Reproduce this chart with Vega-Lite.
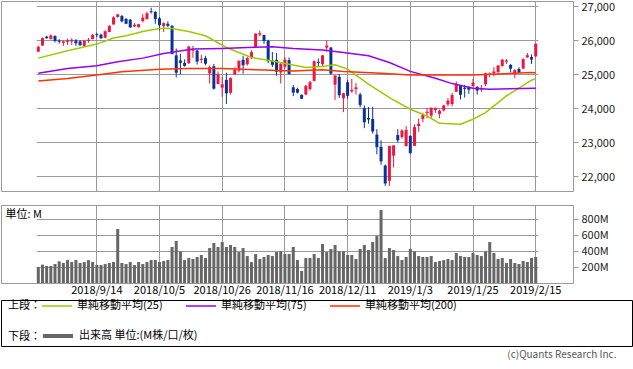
{
"$schema": "https://vega.github.io/schema/vega-lite/v6.json",
"padding": 0,
"background": "white",
"config": {
  "font": "Noto Sans CJK JP",
  "view": {"stroke": "#999999"},
  "axis": {"labelColor": "#222222", "gridColor": "#999999", "gridWidth": 1, "domain": false, "tickColor": "#999999", "labelFontSize": 11}
},
"title": {"text": "(c)Quants Research Inc.", "orient": "bottom", "anchor": "end", "fontSize": 10, "fontWeight": "normal", "color": "#555555", "offset": 3, "dx": -16},
"datasets": {
"p": [
{"d":"2018-08-24","o":25660,"h":25830,"l":25650,"c":25790,"v":200},
{"d":"2018-08-27","o":25840,"h":26075,"l":25830,"c":26049,"v":229},
{"d":"2018-08-28","o":26100,"h":26130,"l":26040,"c":26064,"v":212},
{"d":"2018-08-29","o":26035,"h":26167,"l":26010,"c":26124,"v":212},
{"d":"2018-08-30","o":26120,"h":26140,"l":25930,"c":25987,"v":237},
{"d":"2018-08-31","o":25980,"h":26030,"l":25900,"c":25965,"v":271},
{"d":"2018-09-04","o":25925,"h":25990,"l":25830,"c":25952,"v":250},
{"d":"2018-09-05","o":25950,"h":26040,"l":25860,"c":25975,"v":287},
{"d":"2018-09-06","o":25960,"h":26050,"l":25860,"c":25996,"v":262},
{"d":"2018-09-07","o":25990,"h":26030,"l":25830,"c":25917,"v":287},
{"d":"2018-09-10","o":25960,"h":26000,"l":25840,"c":25857,"v":250},
{"d":"2018-09-11","o":25830,"h":25990,"l":25800,"c":25971,"v":262},
{"d":"2018-09-12","o":25980,"h":26060,"l":25920,"c":25999,"v":287},
{"d":"2018-09-13","o":26030,"h":26180,"l":26020,"c":26146,"v":262},
{"d":"2018-09-14","o":26165,"h":26220,"l":26090,"c":26155,"v":225},
{"d":"2018-09-17","o":26160,"h":26190,"l":26040,"c":26062,"v":225},
{"d":"2018-09-18","o":26070,"h":26290,"l":26060,"c":26247,"v":237},
{"d":"2018-09-19","o":26240,"h":26440,"l":26230,"c":26406,"v":250},
{"d":"2018-09-20","o":26460,"h":26700,"l":26450,"c":26657,"v":262},
{"d":"2018-09-21","o":26680,"h":26770,"l":26660,"c":26743,"v":675},
{"d":"2018-09-24","o":26710,"h":26740,"l":26520,"c":26562,"v":250},
{"d":"2018-09-25","o":26620,"h":26650,"l":26470,"c":26492,"v":237},
{"d":"2018-09-26","o":26600,"h":26620,"l":26360,"c":26385,"v":262},
{"d":"2018-09-27","o":26400,"h":26500,"l":26380,"c":26440,"v":225},
{"d":"2018-09-28","o":26380,"h":26480,"l":26370,"c":26458,"v":262},
{"d":"2018-10-01","o":26560,"h":26770,"l":26520,"c":26651,"v":237},
{"d":"2018-10-02","o":26620,"h":26830,"l":26600,"c":26774,"v":262},
{"d":"2018-10-03","o":26840,"h":26951,"l":26782,"c":26828,"v":287},
{"d":"2018-10-04","o":26830,"h":26850,"l":26480,"c":26627,"v":287},
{"d":"2018-10-05","o":26640,"h":26680,"l":26280,"c":26447,"v":262},
{"d":"2018-10-08","o":26410,"h":26520,"l":26240,"c":26487,"v":275},
{"d":"2018-10-09","o":26480,"h":26550,"l":26380,"c":26431,"v":287},
{"d":"2018-10-10","o":26420,"h":26440,"l":25590,"c":25599,"v":450},
{"d":"2018-10-11","o":25550,"h":25750,"l":24900,"c":25053,"v":525},
{"d":"2018-10-12","o":25400,"h":25600,"l":24990,"c":25340,"v":396},
{"d":"2018-10-15","o":25330,"h":25430,"l":25220,"c":25250,"v":287},
{"d":"2018-10-16","o":25320,"h":25830,"l":25300,"c":25798,"v":312},
{"d":"2018-10-17","o":25690,"h":25830,"l":25480,"c":25707,"v":300},
{"d":"2018-10-18","o":25690,"h":25720,"l":25280,"c":25379,"v":325},
{"d":"2018-10-19","o":25420,"h":25570,"l":25320,"c":25444,"v":350},
{"d":"2018-10-22","o":25470,"h":25540,"l":25260,"c":25317,"v":312},
{"d":"2018-10-23","o":25020,"h":25250,"l":24720,"c":25191,"v":437},
{"d":"2018-10-24","o":25230,"h":25300,"l":24540,"c":24583,"v":500},
{"d":"2018-10-25","o":24710,"h":25080,"l":24700,"c":24985,"v":450},
{"d":"2018-10-26","o":24600,"h":24920,"l":24330,"c":24688,"v":512},
{"d":"2018-10-29","o":24830,"h":25040,"l":24120,"c":24443,"v":450},
{"d":"2018-10-30","o":24450,"h":24900,"l":24400,"c":24875,"v":475},
{"d":"2018-10-31","o":24990,"h":25200,"l":24980,"c":25116,"v":450},
{"d":"2018-11-01","o":25100,"h":25400,"l":25050,"c":25381,"v":387},
{"d":"2018-11-02","o":25420,"h":25540,"l":25010,"c":25271,"v":437},
{"d":"2018-11-05","o":25290,"h":25500,"l":25250,"c":25462,"v":337},
{"d":"2018-11-06","o":25470,"h":25700,"l":25440,"c":25635,"v":262},
{"d":"2018-11-07","o":25800,"h":26200,"l":25780,"c":26180,"v":362},
{"d":"2018-11-08","o":26160,"h":26280,"l":26110,"c":26191,"v":300},
{"d":"2018-11-09","o":26150,"h":26160,"l":25890,"c":25989,"v":325},
{"d":"2018-11-12","o":25980,"h":26010,"l":25330,"c":25387,"v":350},
{"d":"2018-11-13","o":25400,"h":25650,"l":25210,"c":25286,"v":337},
{"d":"2018-11-14","o":25420,"h":25620,"l":24950,"c":25080,"v":387},
{"d":"2018-11-15","o":25050,"h":25330,"l":24720,"c":25289,"v":400},
{"d":"2018-11-16","o":25220,"h":25500,"l":25160,"c":25413,"v":362},
{"d":"2018-11-19","o":25410,"h":25490,"l":24980,"c":25017,"v":362},
{"d":"2018-11-20","o":24610,"h":24680,"l":24350,"c":24466,"v":450},
{"d":"2018-11-21","o":24560,"h":24600,"l":24430,"c":24465,"v":287},
{"d":"2018-11-23","o":24390,"h":24400,"l":24270,"c":24286,"v":150},
{"d":"2018-11-26","o":24400,"h":24680,"l":24380,"c":24640,"v":312},
{"d":"2018-11-27","o":24560,"h":24800,"l":24510,"c":24749,"v":312},
{"d":"2018-11-28","o":24800,"h":25400,"l":24780,"c":25366,"v":362},
{"d":"2018-11-29","o":25360,"h":25460,"l":25220,"c":25339,"v":312},
{"d":"2018-11-30","o":25290,"h":25560,"l":25230,"c":25538,"v":487},
{"d":"2018-12-03","o":25780,"h":25990,"l":25660,"c":25826,"v":387},
{"d":"2018-12-04","o":25780,"h":25800,"l":24980,"c":25027,"v":425},
{"d":"2018-12-06","o":24690,"h":24960,"l":24240,"c":24948,"v":475},
{"d":"2018-12-07","o":24920,"h":25000,"l":24300,"c":24389,"v":396},
{"d":"2018-12-10","o":24290,"h":24450,"l":23880,"c":24423,"v":396},
{"d":"2018-12-11","o":24760,"h":24830,"l":24280,"c":24370,"v":350},
{"d":"2018-12-12","o":24490,"h":24860,"l":24450,"c":24527,"v":350},
{"d":"2018-12-13","o":24560,"h":24730,"l":24400,"c":24597,"v":300},
{"d":"2018-12-14","o":24400,"h":24450,"l":24020,"c":24100,"v":425},
{"d":"2018-12-17","o":24000,"h":24080,"l":23410,"c":23593,"v":475},
{"d":"2018-12-18","o":23710,"h":24030,"l":23540,"c":23676,"v":412},
{"d":"2018-12-19","o":23680,"h":24040,"l":23250,"c":23324,"v":512},
{"d":"2018-12-20","o":23220,"h":23380,"l":22640,"c":22860,"v":587},
{"d":"2018-12-21","o":22860,"h":23050,"l":22330,"c":22445,"v":912},
{"d":"2018-12-24","o":22310,"h":22340,"l":21710,"c":21792,"v":312},
{"d":"2018-12-26","o":21860,"h":22880,"l":21710,"c":22878,"v":437},
{"d":"2018-12-27","o":22600,"h":22900,"l":22250,"c":22890,"v":412},
{"d":"2018-12-28","o":23210,"h":23380,"l":22990,"c":23062,"v":337},
{"d":"2018-12-31","o":23150,"h":23380,"l":23100,"c":23327,"v":287},
{"d":"2019-01-02","o":22880,"h":23470,"l":22870,"c":23346,"v":325},
{"d":"2019-01-03","o":23180,"h":23200,"l":22640,"c":22686,"v":425},
{"d":"2019-01-04","o":22890,"h":23520,"l":22880,"c":23433,"v":396},
{"d":"2019-01-07","o":23470,"h":23690,"l":23300,"c":23531,"v":337},
{"d":"2019-01-08","o":23680,"h":23860,"l":23580,"c":23787,"v":325},
{"d":"2019-01-09","o":23850,"h":24000,"l":23700,"c":23879,"v":325},
{"d":"2019-01-10","o":23780,"h":24010,"l":23710,"c":24002,"v":337},
{"d":"2019-01-11","o":23940,"h":24010,"l":23860,"c":23996,"v":262},
{"d":"2019-01-14","o":23830,"h":23960,"l":23700,"c":23910,"v":275},
{"d":"2019-01-15","o":23930,"h":24100,"l":23900,"c":24066,"v":287},
{"d":"2019-01-16","o":24110,"h":24290,"l":24050,"c":24207,"v":300},
{"d":"2019-01-17","o":24120,"h":24450,"l":24050,"c":24370,"v":287},
{"d":"2019-01-18","o":24480,"h":24780,"l":24480,"c":24706,"v":375},
{"d":"2019-01-22","o":24650,"h":24680,"l":24250,"c":24404,"v":337},
{"d":"2019-01-23","o":24600,"h":24680,"l":24310,"c":24576,"v":325},
{"d":"2019-01-24","o":24600,"h":24650,"l":24420,"c":24553,"v":325},
{"d":"2019-01-25","o":24640,"h":24860,"l":24640,"c":24737,"v":375},
{"d":"2019-01-28","o":24620,"h":24650,"l":24400,"c":24528,"v":350},
{"d":"2019-01-29","o":24540,"h":24680,"l":24480,"c":24580,"v":337},
{"d":"2019-01-30","o":24700,"h":25040,"l":24650,"c":25015,"v":396},
{"d":"2019-01-31","o":24975,"h":25050,"l":24900,"c":25000,"v":512},
{"d":"2019-02-01","o":25020,"h":25200,"l":24930,"c":25064,"v":375},
{"d":"2019-02-04","o":25060,"h":25270,"l":24990,"c":25239,"v":300},
{"d":"2019-02-05","o":25240,"h":25440,"l":25220,"c":25412,"v":312},
{"d":"2019-02-06","o":25370,"h":25440,"l":25300,"c":25390,"v":250},
{"d":"2019-02-07","o":25270,"h":25300,"l":25050,"c":25170,"v":300},
{"d":"2019-02-08","o":25030,"h":25140,"l":24880,"c":25106,"v":250},
{"d":"2019-02-11","o":25150,"h":25200,"l":25030,"c":25053,"v":237},
{"d":"2019-02-12","o":25160,"h":25470,"l":25150,"c":25426,"v":275},
{"d":"2019-02-13","o":25490,"h":25620,"l":25480,"c":25543,"v":262},
{"d":"2019-02-14","o":25500,"h":25580,"l":25300,"c":25439,"v":312},
{"d":"2019-02-15","o":25520,"h":25900,"l":25500,"c":25883,"v":325}
],
"ma": [
{"d":"2018-08-24","s":"単純移動平均(25)","v":25469},
{"d":"2018-09-05","s":"単純移動平均(25)","v":25684},
{"d":"2018-09-14","s":"単純移動平均(25)","v":25882},
{"d":"2018-09-20","s":"単純移動平均(25)","v":26059},
{"d":"2018-09-25","s":"単純移動平均(25)","v":26127},
{"d":"2018-10-01","s":"単純移動平均(25)","v":26254},
{"d":"2018-10-05","s":"単純移動平均(25)","v":26342},
{"d":"2018-10-10","s":"単純移動平均(25)","v":26342},
{"d":"2018-10-16","s":"単純移動平均(25)","v":26254},
{"d":"2018-10-22","s":"単純移動平均(25)","v":26127},
{"d":"2018-10-29","s":"単純移動平均(25)","v":25782},
{"d":"2018-11-06","s":"単純移動平均(25)","v":25487},
{"d":"2018-11-12","s":"単純移動平均(25)","v":25410},
{"d":"2018-11-19","s":"単純移動平均(25)","v":25292},
{"d":"2018-11-26","s":"単純移動平均(25)","v":25192},
{"d":"2018-11-30","s":"単純移動平均(25)","v":25221},
{"d":"2018-12-06","s":"単純移動平均(25)","v":25271},
{"d":"2018-12-11","s":"単純移動平均(25)","v":25145},
{"d":"2018-12-18","s":"単純移動平均(25)","v":24702},
{"d":"2018-12-26","s":"単純移動平均(25)","v":24307},
{"d":"2019-01-03","s":"単純移動平均(25)","v":23965},
{"d":"2019-01-09","s":"単純移動平均(25)","v":23767},
{"d":"2019-01-14","s":"単純移動平均(25)","v":23552},
{"d":"2019-01-22","s":"単純移動平均(25)","v":23522},
{"d":"2019-01-25","s":"単純移動平均(25)","v":23670},
{"d":"2019-01-30","s":"単純移動平均(25)","v":23864},
{"d":"2019-02-01","s":"単純移動平均(25)","v":24062},
{"d":"2019-02-06","s":"単純移動平均(25)","v":24357},
{"d":"2019-02-11","s":"単純移動平均(25)","v":24584},
{"d":"2019-02-14","s":"単純移動平均(25)","v":24820},
{"d":"2019-02-15","s":"単純移動平均(25)","v":24867},
{"d":"2018-08-24","s":"単純移動平均(75)","v":25027},
{"d":"2018-09-05","s":"単純移動平均(75)","v":25162},
{"d":"2018-09-14","s":"単純移動平均(75)","v":25242},
{"d":"2018-09-21","s":"単純移動平均(75)","v":25360},
{"d":"2018-10-01","s":"単純移動平均(75)","v":25469},
{"d":"2018-10-08","s":"単純移動平均(75)","v":25605},
{"d":"2018-10-17","s":"単純移動平均(75)","v":25735},
{"d":"2018-10-26","s":"単純移動平均(75)","v":25752},
{"d":"2018-11-05","s":"単純移動平均(75)","v":25782},
{"d":"2018-11-13","s":"単純移動平均(75)","v":25802},
{"d":"2018-11-20","s":"単純移動平均(75)","v":25752},
{"d":"2018-11-30","s":"単純移動平均(75)","v":25705},
{"d":"2018-12-10","s":"単純移動平均(75)","v":25634},
{"d":"2018-12-18","s":"単純移動平均(75)","v":25537},
{"d":"2018-12-26","s":"単純移動平均(75)","v":25339},
{"d":"2019-01-03","s":"単純移動平均(75)","v":25080},
{"d":"2019-01-11","s":"単純移動平均(75)","v":24879},
{"d":"2019-01-17","s":"単純移動平均(75)","v":24720},
{"d":"2019-01-25","s":"単純移動平均(75)","v":24584},
{"d":"2019-01-31","s":"単純移動平均(75)","v":24555},
{"d":"2019-02-15","s":"単純移動平均(75)","v":24584},
{"d":"2018-08-24","s":"単純移動平均(200)","v":24799},
{"d":"2018-09-05","s":"単純移動平均(200)","v":24867},
{"d":"2018-09-14","s":"単純移動平均(200)","v":24976},
{"d":"2018-09-24","s":"単純移動平均(200)","v":25065},
{"d":"2018-10-05","s":"単純移動平均(200)","v":25145},
{"d":"2018-10-16","s":"単純移動平均(200)","v":25162},
{"d":"2018-10-26","s":"単純移動平均(200)","v":25162},
{"d":"2018-11-07","s":"単純移動平均(200)","v":25124},
{"d":"2018-11-20","s":"単純移動平均(200)","v":25094},
{"d":"2018-11-30","s":"単純移動平均(200)","v":25124},
{"d":"2018-12-10","s":"単純移動平均(200)","v":25074},
{"d":"2018-12-21","s":"単純移動平均(200)","v":25027},
{"d":"2019-01-03","s":"単純移動平均(200)","v":24976},
{"d":"2019-01-25","s":"単純移動平均(200)","v":24976},
{"d":"2019-02-14","s":"単純移動平均(200)","v":25044},
{"d":"2019-02-15","s":"単純移動平均(200)","v":25040}
]
},
"spacing": 3,
"vconcat": [
{
"spacing": 12,
"vconcat": [
{
"width": 572,
"height": 190,
"encoding": {
  "x": {"field": "d", "type": "ordinal", "scale": {"type": "band", "paddingInner": 0, "paddingOuter": 0, "range": [35.2, 536.8]},
        "axis": {"values": ["2018-09-14","2018-10-05","2018-10-26","2018-11-16","2018-12-11","2019-01-03","2019-01-25","2019-02-15"], "bandPosition": 0.5, "labels": false, "ticks": false, "grid": true, "domain": false, "title": null}}
},
"layer": [
{"data": {"name": "p"}, "mark": {"type": "rule", "strokeWidth": 1},
 "encoding": {
  "y": {"field": "l", "type": "quantitative", "scale": {"domain": [21560, 27150], "zero": false, "nice": false},
        "axis": {"orient": "right", "values": [22000,23000,24000,25000,26000,27000], "labelExpr": "format(datum.value, ',')", "labelOverlap": false, "labelOffset": 1, "grid": true, "tickSize": 5, "labelPadding": 3, "title": null, "labelFontSize": 11}},
  "y2": {"field": "h"},
  "color": {"condition": {"test": "datum.c >= datum.o", "value": "#f01440"}, "value": "#0a3296"}
 }},
{"data": {"name": "p"}, "mark": {"type": "bar", "width": 3, "orient": "vertical"},
 "encoding": {
  "y": {"field": "o", "type": "quantitative", "scale": {"domain": [21560, 27150], "zero": false, "nice": false},
        "axis": {"orient": "right", "values": [22000,23000,24000,25000,26000,27000], "labelExpr": "format(datum.value, ',')", "labelOverlap": false, "labelOffset": 1, "grid": true, "tickSize": 5, "labelPadding": 3, "title": null, "labelFontSize": 11}},
  "y2": {"field": "c"},
  "color": {"condition": {"test": "datum.c >= datum.o", "value": "#f01440"}, "value": "#0a3296"}
 }},
{"data": {"name": "p"}, "mark": {"type": "tick", "orient": "horizontal", "thickness": 1, "size": 3},
 "encoding": {
  "y": {"field": "c", "type": "quantitative", "scale": {"domain": [21560, 27150], "zero": false, "nice": false},
        "axis": {"orient": "right", "values": [22000,23000,24000,25000,26000,27000], "labelExpr": "format(datum.value, ',')", "labelOverlap": false, "labelOffset": 1, "grid": true, "tickSize": 5, "labelPadding": 3, "title": null, "labelFontSize": 11}},
  "color": {"condition": {"test": "datum.c >= datum.o", "value": "#f01440"}, "value": "#0a3296"}
 }},
{"data": {"name": "ma"}, "mark": {"type": "line", "strokeWidth": 1.5},
 "encoding": {
  "y": {"field": "v", "type": "quantitative", "scale": {"domain": [21560, 27150], "zero": false, "nice": false},
        "axis": {"orient": "right", "values": [22000,23000,24000,25000,26000,27000], "labelExpr": "format(datum.value, ',')", "labelOverlap": false, "labelOffset": 1, "grid": true, "tickSize": 5, "labelPadding": 3, "title": null, "labelFontSize": 11}},
  "stroke": {"field": "s", "type": "nominal",
    "scale": {"domain": ["単純移動平均(25)","単純移動平均(75)","単純移動平均(200)"], "range": ["#99cc00","#9900ee","#ff3300"]},
    "legend": {"orient": "none", "legendX": 7, "legendY": 289, "direction": "horizontal", "title": "上段：", "titleOrient": "left", "titleAnchor": "middle", "titleFontSize": 11, "titleFontWeight": "normal", "titleColor": "#000000", "titlePadding": 0, "titleBaseline": "middle", "symbolType": "stroke", "symbolSize": 900, "symbolStrokeWidth": 1.5, "labelFontSize": 11, "labelColor": "#000000", "labelOffset": 4, "columnPadding": 20, "labelLimit": 200,
      "encode": {"title": {"update": {"dy": {"value": 5}}}}}}
 }}
]
},
{
"width": 572,
"height": 78,
"data": {"name": "p"},
"mark": {"type": "bar", "width": 3},
"encoding": {
  "x": {"field": "d", "type": "ordinal", "scale": {"type": "band", "paddingInner": 0, "paddingOuter": 0, "range": [35.2, 536.8]},
        "axis": {"values": ["2018-09-14","2018-10-05","2018-10-26","2018-11-16","2018-12-11","2019-01-03","2019-01-25","2019-02-15"], "bandPosition": 0.5,
                 "labelExpr": "substring(datum.value,0,4) + '/' + parseInt(substring(datum.value,5,7)) + '/' + parseInt(substring(datum.value,8,10))",
                 "labelOverlap": false, "labelAngle": 0, "ticks": false, "tickSize": 0, "grid": true, "domain": false, "labelPadding": 1, "labelFontSize": 11, "labelColor": "#000000", "title": null}},
  "y": {"field": "v", "type": "quantitative", "scale": {"domain": [0, 975], "nice": false},
        "axis": {"orient": "right", "values": [200,400,600,800], "labelExpr": "datum.value + 'M'", "labelOverlap": false, "grid": true, "tickSize": 5, "labelPadding": 3,
                 "title": "単位: M", "titleAngle": 0, "titleX": -568, "titleY": 9, "titleAlign": "left", "titleBaseline": "middle", "titleFontSize": 11, "titleFontWeight": "normal", "titleColor": "#000000"}},
  "fill": {"datum": "出来高 単位:(M株/口/枚)", "type": "nominal", "scale": {"range": ["#666666"]},
    "legend": {"orient": "none", "legendX": 7, "legendY": 318, "direction": "horizontal", "title": "下段：", "titleOrient": "left", "titleAnchor": "middle", "titleFontSize": 11, "titleFontWeight": "normal", "titleColor": "#000000", "titlePadding": 0, "titleBaseline": "middle", "symbolType": "stroke", "symbolSize": 900, "symbolStrokeWidth": 4, "symbolStrokeColor": "#666666", "labelFontSize": 11, "labelColor": "#000000", "labelOffset": 4, "labelLimit": 250,
      "encode": {"symbols": {"update": {"stroke": {"value": "#666666"}, "strokeWidth": {"value": 4}}}, "title": {"update": {"dy": {"value": 5}}}}}}
}
}
]
},
{
"width": 631,
"height": 46,
"data": {"values": [{}]},
"mark": {"type": "text"},
"encoding": {"text": {"value": ""}},
"view": {"stroke": "#000000"}
}
]
}
